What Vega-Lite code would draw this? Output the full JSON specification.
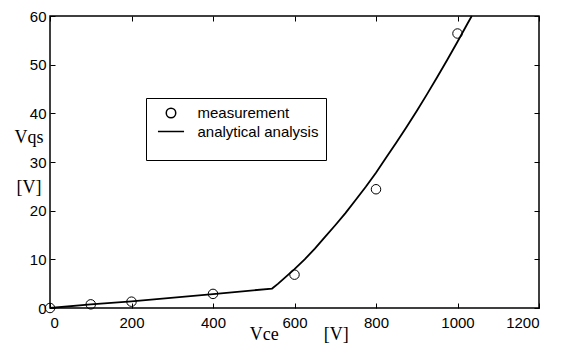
{
  "$schema": "https://vega.github.io/schema/vega-lite/v6.json",
  "width": 489,
  "height": 292,
  "autosize": {"type": "none"},
  "padding": {"left": 50, "top": 16, "right": 28, "bottom": 37},
  "background": "white",
  "config": {
    "view": {"stroke": "black", "strokeWidth": 1.5},
    "axis": {
      "domain": false,
      "grid": false,
      "tickColor": "black",
      "tickWidth": 1,
      "labelColor": "black",
      "labelFont": "Liberation Sans",
      "labelFontSize": 15,
      "titleFont": "Liberation Serif",
      "titleFontSize": 18,
      "titleFontWeight": "normal",
      "titleColor": "black"
    }
  },
  "datasets": {
    "model": [
      {"Vce": 0, "Vqs": 0},
      {"Vce": 100, "Vqs": 0.75},
      {"Vce": 200, "Vqs": 1.35},
      {"Vce": 400, "Vqs": 2.85},
      {"Vce": 545, "Vqs": 4.0},
      {"Vce": 560, "Vqs": 5.0},
      {"Vce": 580, "Vqs": 6.5},
      {"Vce": 600, "Vqs": 8.0},
      {"Vce": 625, "Vqs": 10.0},
      {"Vce": 650, "Vqs": 12.2},
      {"Vce": 675, "Vqs": 14.6},
      {"Vce": 700, "Vqs": 17.0},
      {"Vce": 725, "Vqs": 19.5},
      {"Vce": 750, "Vqs": 22.2},
      {"Vce": 775, "Vqs": 24.9},
      {"Vce": 800, "Vqs": 27.8},
      {"Vce": 825, "Vqs": 30.9},
      {"Vce": 850, "Vqs": 34.0},
      {"Vce": 875, "Vqs": 37.2},
      {"Vce": 900, "Vqs": 40.5},
      {"Vce": 925, "Vqs": 43.9},
      {"Vce": 950, "Vqs": 47.4},
      {"Vce": 975, "Vqs": 51.0},
      {"Vce": 1000, "Vqs": 54.7},
      {"Vce": 1025, "Vqs": 58.5},
      {"Vce": 1035, "Vqs": 60.0}
    ],
    "meas": [
      {"Vce": 0, "Vqs": 0, "series": "measurement"},
      {"Vce": 100, "Vqs": 0.75, "series": "measurement"},
      {"Vce": 200, "Vqs": 1.3, "series": "measurement"},
      {"Vce": 400, "Vqs": 2.9, "series": "measurement"},
      {"Vce": 600, "Vqs": 6.85, "series": "measurement"},
      {"Vce": 800, "Vqs": 24.4, "series": "measurement"},
      {"Vce": 1000, "Vqs": 56.4, "series": "measurement"}
    ]
  },
  "layer": [
    {
      "data": {"name": "model"},
      "mark": {"type": "line", "color": "black", "strokeWidth": 1.8},
      "encoding": {
        "x": {
          "field": "Vce", "type": "quantitative",
          "scale": {"domain": [0, 1200], "nice": false},
          "axis": {
            "orient": "bottom",
            "values": [0, 200, 400, 600, 800, 1000, 1200],
            "format": "d",
            "tickSize": -5,
            "labelPadding": 12,
            "title": "Vce\u00a0\u00a0\u00a0\u00a0\u00a0\u00a0\u00a0\u00a0\u00a0\u00a0[V]",
            "titleAlign": "left",
            "titleAnchor": "start",
            "titleX": 199.3,
            "titleY": 31,
            "titleBaseline": "alphabetic"
          }
        },
        "y": {
          "field": "Vqs", "type": "quantitative",
          "scale": {"domain": [0, 60], "nice": false},
          "axis": {
            "orient": "left",
            "values": [0, 10, 20, 30, 40, 50, 60],
            "format": "d",
            "tickSize": -5,
            "labelPadding": 9,
            "title": ["Vqs", "[V]"],
            "titleAngle": 0,
            "titleAlign": "center",
            "titleX": -21.5,
            "titleY": 126,
            "titleBaseline": "alphabetic",
            "titleLineHeight": 50
          }
        }
      }
    },
    {
      "data": {"name": "meas"},
      "mark": {"type": "point", "filled": false, "stroke": "black", "strokeWidth": 1, "size": 90, "opacity": 1},
      "encoding": {
        "x": {
          "field": "Vce", "type": "quantitative",
          "axis": {"orient": "top", "values": [0, 200, 400, 600, 800, 1000, 1200], "tickSize": -5, "labels": false, "title": null}
        },
        "y": {
          "field": "Vqs", "type": "quantitative",
          "axis": {"orient": "right", "values": [0, 10, 20, 30, 40, 50, 60], "tickSize": -5, "labels": false, "title": null}
        },
        "shape": {
          "field": "series", "type": "nominal",
          "scale": {"domain": ["measurement", "analytical analysis"], "range": ["circle", "M-2.75,0H2.75"]},
          "legend": {
            "orient": "none",
            "legendX": 96,
            "legendY": 82,
            "title": "\u00a0",
            "titleOrient": "bottom",
            "titleFontSize": 8,
            "titlePadding": 5,
            "padding": 7.5,
            "strokeColor": "black",
            "fillColor": "white",
            "labelFont": "Liberation Sans",
            "labelFontSize": 15,
            "labelColor": "black",
            "labelOffset": 19,
            "labelLimit": 300,
            "symbolOffset": 10,
            "symbolSize": 90,
            "symbolStrokeColor": "black",
            "symbolStrokeWidth": 1.5,
            "symbolFillColor": "transparent",
            "rowPadding": 2.5,
            "encode": {"legend": {"update": {"strokeWidth": {"value": 2}}}}
          }
        }
      }
    }
  ],
  "resolve": {"axis": {"x": "independent", "y": "independent"}}
}
